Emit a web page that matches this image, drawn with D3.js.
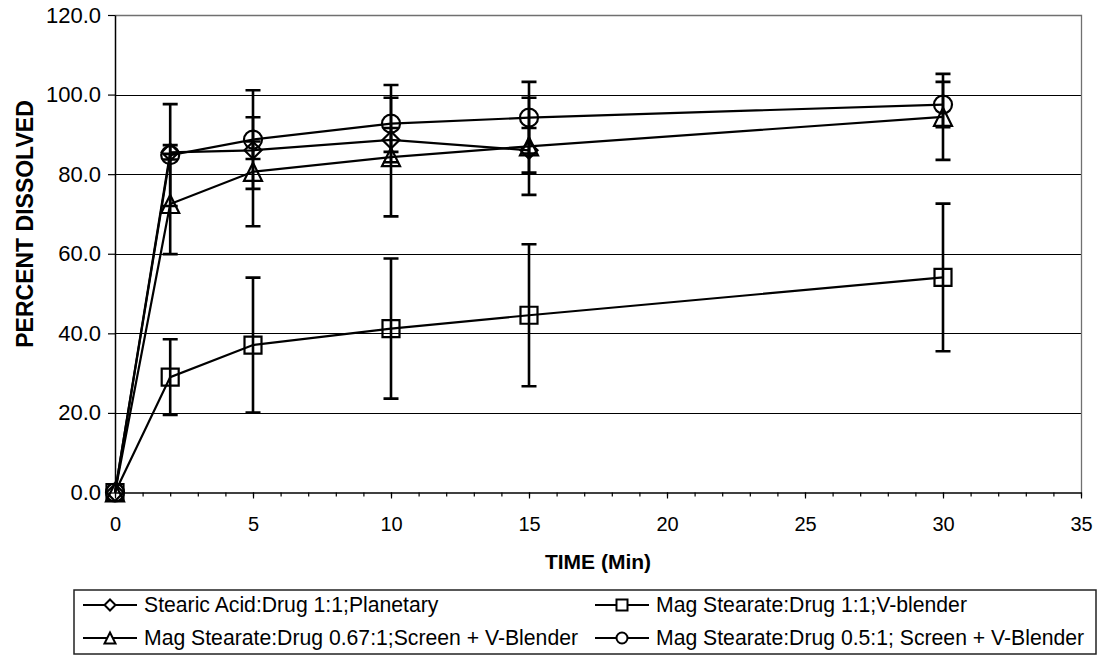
<!DOCTYPE html>
<html><head><meta charset="utf-8">
<script src="https://cdn.jsdelivr.net/npm/d3@7"></script>
<style>
html,body{margin:0;padding:0;background:#fff;}
svg{display:block;font-family:"Liberation Sans",Arial,sans-serif;}
</style></head>
<body>
<svg id="chart" width="1107" height="656"></svg>
<script>
// ---- data ----
const times = [0, 2, 5, 10, 15, 30];
const seriesNames = [
  "Stearic Acid:Drug 1:1;Planetary",
  "Mag Stearate:Drug 1:1;V-blender",
  "Mag Stearate:Drug 0.67:1;Screen + V-Blender",
  "Mag Stearate:Drug 0.5:1; Screen + V-Blender"
];
const stearicValues = [0, 85.5, 86.0, 88.6, 86.0];
const stearicErrors = [0, 1.8, 2.2, 3.0, 5.6];
const magV11Values = [0, 29.0, 37.05, 41.2, 44.55, 54.05];
const magV11Errors = [0, 9.5, 16.95, 17.6, 17.85, 18.55];
const mag067Values = [0, 72.5, 80.6, 84.3, 87.0, 94.4];
const mag067Errors = [0, 12.6, 13.7, 14.9, 12.2, 10.8];
const mag05Values = [0, 84.8, 88.7, 92.7, 94.2, 97.5];
const mag05Errors = [0, 12.8, 12.4, 9.7, 9.0, 5.7];
const markerTypes = ["diamond", "square", "triangle", "circle"];
const xTicks = [0, 5, 10, 15, 20, 25, 30, 35];
const yTicks = [0, 20, 40, 60, 80, 100, 120];
const xTitle = "TIME (Min)";
const yTitle = "PERCENT DISSOLVED";

const seriesList = [
  {name: seriesNames[0], values: stearicValues, errors: stearicErrors, marker: markerTypes[0]},
  {name: seriesNames[1], values: magV11Values, errors: magV11Errors, marker: markerTypes[1]},
  {name: seriesNames[2], values: mag067Values, errors: mag067Errors, marker: markerTypes[2]},
  {name: seriesNames[3], values: mag05Values, errors: mag05Errors, marker: markerTypes[3]}
];

// ---- layout ----
const L = 115, R = 1081, T = 15, B = 492.5;
const svg = d3.select("#chart");
const x = d3.scaleLinear().domain([0, 35]).range([L, R]);
const y = d3.scaleLinear().domain([0, 120]).range([B, T]);

function markerPath(type, s) {
  const h = s / 2;
  if (type === "diamond") return `M0,${-h}L${h},0L0,${h}L${-h},0Z`;
  if (type === "square") return `M${-h},${-h}H${h}V${h}H${-h}Z`;
  if (type === "triangle") return `M0,${-h}L${h},${h}L${-h},${h}Z`;
  const p = d3.path(); p.arc(0, 0, h, 0, Math.PI * 2); return p.toString();
}
const markerSize = {diamond: 17, square: 17, triangle: 18, circle: 18};

// gridlines
svg.append("g").selectAll("line").data(yTicks.filter(d => d > 0 && d < 120)).join("line")
  .attr("x1", L).attr("x2", R)
  .attr("y1", d => Math.round(y(d)) + 0.5).attr("y2", d => Math.round(y(d)) + 0.5)
  .attr("stroke", "#000").attr("stroke-width", 1);

// plot border top/right
svg.append("path")
  .attr("d", `M${L},${T + 0.5}H${R + 0.5}V${B}`)
  .attr("fill", "none").attr("stroke", "#707070").attr("stroke-width", 1.3);

// y axis
const yAxis = d3.axisLeft(y).tickValues(yTicks).tickSize(7).tickSizeOuter(0).tickPadding(7)
  .tickFormat(d3.format(".1f"));
const gy = svg.append("g").attr("transform", `translate(${L},0)`).call(yAxis);
gy.select(".domain").attr("stroke", "#000").attr("stroke-width", 1.5);
gy.selectAll(".tick line").attr("stroke", "#000").attr("stroke-width", 1.2);
gy.selectAll(".tick text").attr("font-size", 22).attr("fill", "#000")
  .attr("font-family", '"Liberation Sans",Arial,sans-serif');

// x axis minor ticks
const xMinor = d3.axisBottom(x).ticks(35).tickSize(4).tickFormat("").tickSizeOuter(0);
const gxm = svg.append("g").attr("transform", `translate(0,${B})`).call(xMinor);
gxm.select(".domain").remove();
gxm.selectAll(".tick line").attr("stroke", "#000").attr("stroke-width", 1.2);
// x axis major
const xAxis = d3.axisBottom(x).tickValues(xTicks).tickSize(6).tickSizeOuter(0).tickPadding(18)
  .tickFormat(d3.format("d"));
const gx = svg.append("g").attr("transform", `translate(0,${B})`).call(xAxis);
gx.select(".domain").attr("stroke", "#000").attr("stroke-width", 1.5);
gx.selectAll(".tick line").attr("stroke", "#000").attr("stroke-width", 1.2);
gx.selectAll(".tick text").attr("font-size", 20).attr("fill", "#000")
  .attr("font-family", '"Liberation Sans",Arial,sans-serif');

// titles
svg.append("text").attr("x", (L + R) / 2).attr("y", 569).attr("text-anchor", "middle")
  .attr("font-weight", "bold").attr("font-size", 21).text(xTitle);
svg.append("text").attr("transform", `translate(33,224) rotate(-90)`).attr("text-anchor", "middle")
  .attr("font-weight", "bold").attr("font-size", 23).text(yTitle);

// series
const line = d3.line().x((d, i) => x(times[i])).y(d => y(d));
const plot = svg.append("g");
seriesList.forEach(s => {
  const g = plot.append("g");
  const pts = s.values.map((v, i) => ({t: times[i], v, e: s.errors[i]})).filter(p => p.e > 0);
  g.selectAll("path.err").data(pts).join("path").attr("class", "err")
    .attr("d", p => {
      const xx = x(p.t), y1 = y(p.v + p.e), y2 = y(p.v - p.e);
      return `M${xx},${y1}V${y2}M${xx - 7.5},${y1}H${xx + 7.5}M${xx - 7.5},${y2}H${xx + 7.5}`;
    })
    .attr("fill", "none").attr("stroke", "#000").attr("stroke-width", 2.6);
  g.append("path").datum(s.values).attr("d", line)
    .attr("fill", "none").attr("stroke", "#000").attr("stroke-width", 2.2);
  g.selectAll("path.mk").data(s.values).join("path").attr("class", "mk")
    .attr("transform", (d, i) => `translate(${x(times[i])},${y(d)})`)
    .attr("d", markerPath(s.marker, markerSize[s.marker]))
    .attr("fill", "none").attr("stroke", "#000").attr("stroke-width", 2.2);
});

// legend
const legX = 74, legY = 590, legW = 1022, legH = 64;
svg.append("rect").attr("x", legX).attr("y", legY).attr("width", legW).attr("height", legH)
  .attr("fill", "#fff").attr("stroke", "#222").attr("stroke-width", 1.5);
const legPos = [[83, 612], [595, 612], [83, 645], [595, 645]];
seriesList.forEach((s, i) => {
  const [lx, by] = legPos[i];
  const cy = by - 7;
  const g = svg.append("g");
  g.append("line").attr("x1", lx).attr("x2", lx + 54).attr("y1", cy).attr("y2", cy)
    .attr("stroke", "#000").attr("stroke-width", 2.2);
  g.append("path").attr("transform", `translate(${lx + 27},${cy})`)
    .attr("d", markerPath(s.marker, 11)).attr("fill", "#fff").attr("stroke", "#000").attr("stroke-width", 2);
  g.append("text").attr("x", lx + 61).attr("y", by).attr("font-size", 21.2).attr("fill", "#000").text(s.name);
});
</script>
</body></html>
